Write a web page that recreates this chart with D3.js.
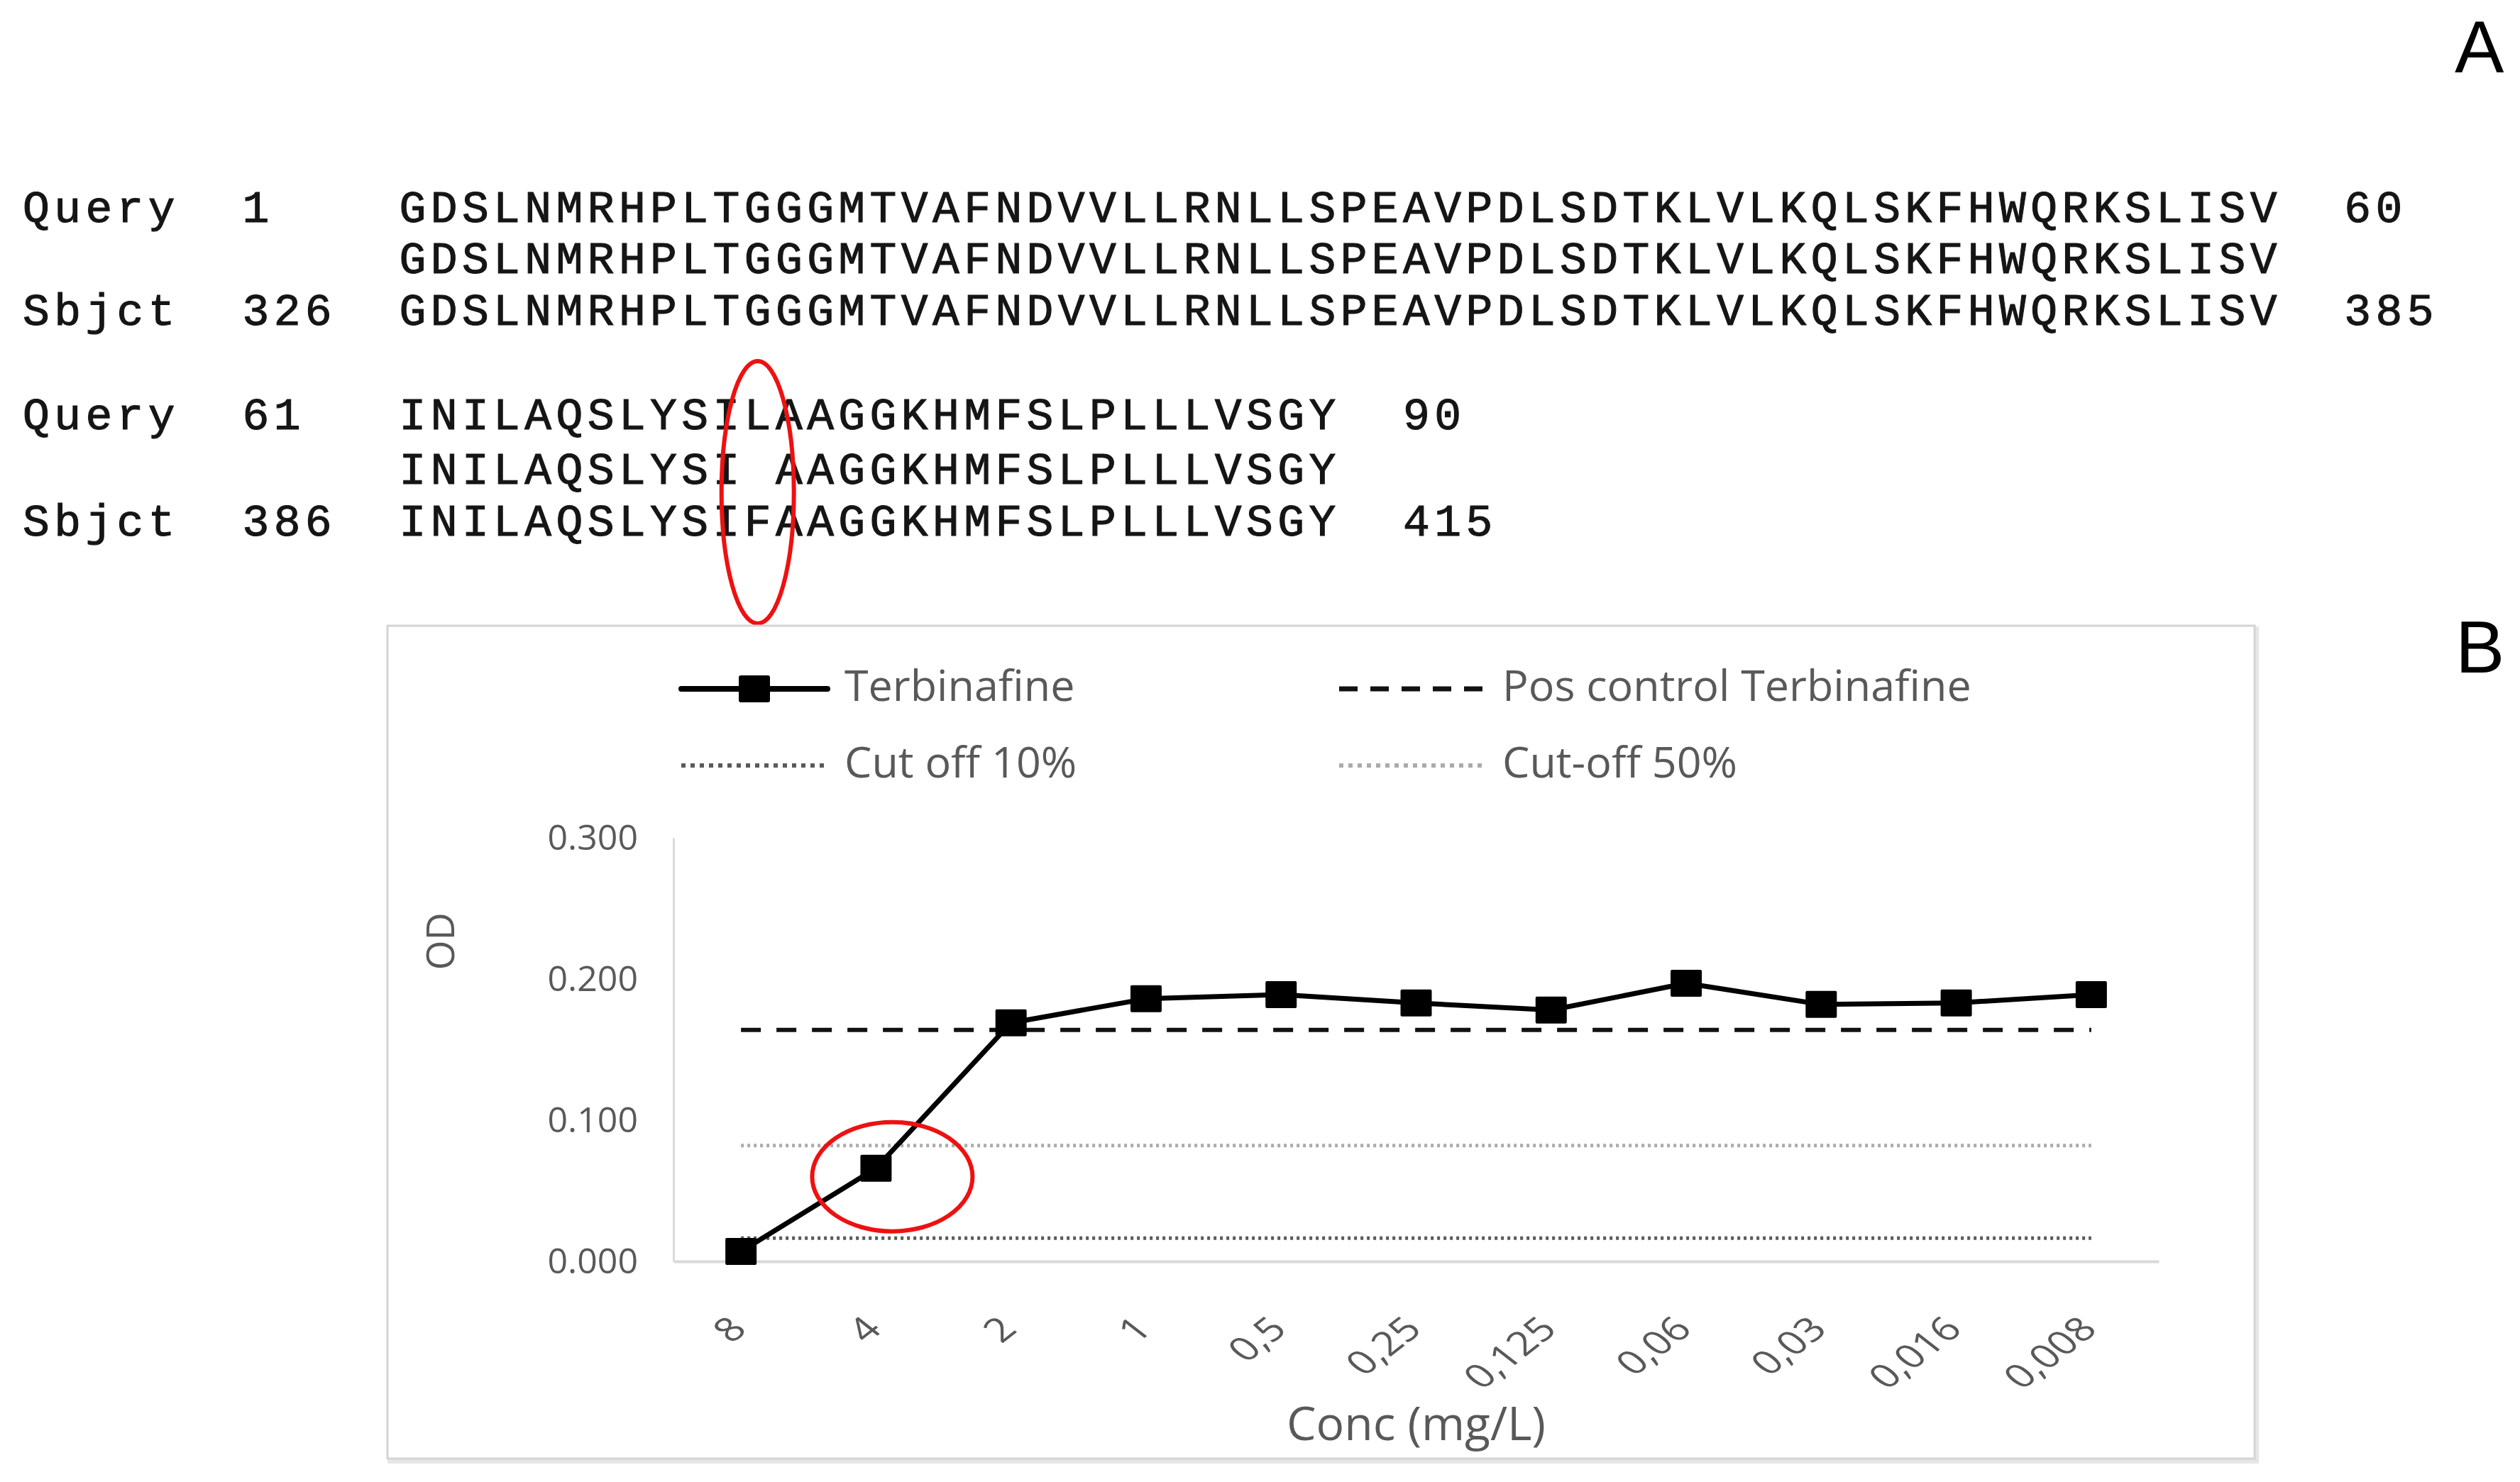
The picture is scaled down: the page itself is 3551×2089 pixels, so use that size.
<!DOCTYPE html>
<html>
<head>
<meta charset="utf-8">
<script src="https://cdn.jsdelivr.net/npm/d3@7"></script>
<style>
  html, body { margin: 0; padding: 0; background: #ffffff; }
  svg { display: block; }
</style>
</head>
<body>
<div id="chart"></div>
<script>
// ---------- DATA ----------
const alignmentBlock1 = [
  "Query  1    GDSLNMRHPLTGGGMTVAFNDVVLLRNLLSPEAVPDLSDTKLVLKQLSKFHWQRKSLISV  60",
  "            GDSLNMRHPLTGGGMTVAFNDVVLLRNLLSPEAVPDLSDTKLVLKQLSKFHWQRKSLISV",
  "Sbjct  326  GDSLNMRHPLTGGGMTVAFNDVVLLRNLLSPEAVPDLSDTKLVLKQLSKFHWQRKSLISV  385"
];
const alignmentBlock2 = [
  "Query  61   INILAQSLYSILAAGGKHMFSLPLLLVSGY  90",
  "            INILAQSLYSI AAGGKHMFSLPLLLVSGY",
  "Sbjct  386  INILAQSLYSIFAAGGKHMFSLPLLLVSGY  415"
];
const mutationColumn = 11; // 0-based residue column of the L/F mismatch

const categories = ["8", "4", "2", "1", "0,5", "0,25", "0,125", "0,06", "0,03", "0,016", "0,008"];
const terbinafineOD = [0.007, 0.066, 0.169, 0.186, 0.189, 0.183, 0.178, 0.197, 0.182, 0.183, 0.189];
const posControlOD = 0.164;
const cutoff50OD = 0.082;
const cutoff10OD = 0.0164;
const yTicks = [0, 0.1, 0.2, 0.3];
const legendLabels = ["Terbinafine", "Pos control Terbinafine", "Cut off 10%", "Cut-off 50%"];
const highlightedCategory = "4";

// ---------- SETUP ----------
const W = 3551, H = 2089;
const svg = d3.select("#chart").append("svg")
  .attr("width", W).attr("height", H)
  .attr("viewBox", `0 0 ${W} ${H}`);
svg.append("rect").attr("width", W).attr("height", H).attr("fill", "#ffffff");

const textGray = "#595959";
const sansFont = "'Open Sans', 'Noto Sans', sans-serif";

// ---------- PANEL A : alignment ----------
const charW = 44.2;              // monospace column pitch
const monoSize = 63;
const seqX0 = 32;
const gA = svg.append("g");
const rowsA = [
  { t: alignmentBlock1[0], y: 313 }, { t: alignmentBlock1[1], y: 385 }, { t: alignmentBlock1[2], y: 458 },
  { t: alignmentBlock2[0], y: 605 }, { t: alignmentBlock2[1], y: 682 }, { t: alignmentBlock2[2], y: 755 }
];
gA.selectAll("text.seq").data(rowsA).join("text")
  .attr("class", "seq")
  .attr("x", seqX0).attr("y", d => d.y)
  .attr("xml:space", "preserve")
  .style("white-space", "pre")
  .attr("font-family", "'Liberation Mono', 'DejaVu Sans Mono', monospace")
  .attr("font-size", monoSize)
  .attr("letter-spacing", charW - 0.6 * monoSize)
  .attr("fill", "#151515")
  .attr("stroke", "#151515").attr("stroke-width", 1.1)
  .text(d => d.t);

// red ellipse around mismatch column
const mutX = seqX0 + (12 + mutationColumn + 0.5) * charW;
gA.append("ellipse")
  .attr("cx", mutX - 3).attr("cy", 694)
  .attr("rx", 51).attr("ry", 185)
  .attr("fill", "none").attr("stroke", "#ee1111").attr("stroke-width", 6);

// Panel letters
svg.append("text").attr("x", 3459).attr("y", 102)
  .attr("font-family", "'Liberation Sans', Arial, sans-serif").attr("font-size", 104)
  .attr("fill", "#000").text("A");
svg.append("text").attr("x", 3460).attr("y", 948)
  .attr("font-family", "'Liberation Sans', Arial, sans-serif").attr("font-size", 104)
  .attr("fill", "#000").text("B");

// ---------- PANEL B : chart frame ----------
const frame = { x: 546, y: 882, w: 2631, h: 1174 };
svg.append("rect")
  .attr("x", frame.x + 3).attr("y", frame.y + 4).attr("width", frame.w).attr("height", frame.h)
  .attr("fill", "none").attr("stroke", "#e6e6e6").attr("stroke-width", 6);
svg.append("rect")
  .attr("x", frame.x).attr("y", frame.y).attr("width", frame.w).attr("height", frame.h)
  .attr("fill", "#ffffff").attr("stroke", "#d4d4d4").attr("stroke-width", 3);

// ---------- scales ----------
const plot = { left: 949, right: 3042, top: 1181, bottom: 1778 };
const x = d3.scaleBand().domain(categories).range([plot.left, plot.right]).padding(0);
const cx = c => x(c) + x.bandwidth() / 2;
const y = d3.scaleLinear().domain([0, 0.3]).range([plot.bottom, plot.top]);

// y axis
const yAxis = svg.append("g").attr("transform", `translate(${plot.left},0)`)
  .call(d3.axisLeft(y).tickValues(yTicks).tickFormat(d3.format(".3f")).tickSize(0).tickPadding(50));
yAxis.select(".domain").attr("stroke", "#d9d9d9").attr("stroke-width", 3);
yAxis.selectAll("text")
  .attr("font-family", sansFont).attr("font-size", 50).attr("fill", textGray);

// x axis
const xAxis = svg.append("g").attr("transform", `translate(0,${plot.bottom})`)
  .call(d3.axisBottom(x).tickSize(0).tickSizeOuter(0));
xAxis.select(".domain").attr("stroke", "#d9d9d9").attr("stroke-width", 4);
xAxis.selectAll(".tick text")
  .attr("font-family", sansFont).attr("font-size", 47).attr("fill", textGray)
  .attr("text-anchor", "end")
  .attr("x", 0).attr("y", 0).attr("dy", "0.72em")
  .attr("transform", "translate(-20,74) scale(1.28,1) rotate(-45)");

// axis titles
svg.append("text")
  .attr("transform", "translate(640,1327) rotate(-90)")
  .attr("text-anchor", "middle")
  .attr("font-family", sansFont).attr("font-size", 54).attr("fill", textGray)
  .text("OD");
svg.append("text")
  .attr("x", (plot.left + plot.right) / 2).attr("y", 2030)
  .attr("text-anchor", "middle")
  .attr("font-family", sansFont).attr("font-size", 66).attr("fill", textGray)
  .text("Conc (mg/L)");

// ---------- reference lines ----------
const x0 = cx(categories[0]), x1 = cx(categories[categories.length - 1]);
const refLines = [
  { v: cutoff10OD, color: "#5a5a5a", dash: "4,5", w: 5 },
  { v: cutoff50OD, color: "#ababab", dash: "4,5", w: 5 },
  { v: posControlOD, color: "#111111", dash: "28,22", w: 6 }
];
svg.append("g").selectAll("line").data(refLines).join("line")
  .attr("x1", x0).attr("x2", x1)
  .attr("y1", d => y(d.v)).attr("y2", d => y(d.v))
  .attr("stroke", d => d.color).attr("stroke-width", d => d.w)
  .attr("stroke-dasharray", d => d.dash);

// ---------- data line ----------
const pts = categories.map((c, i) => ({ c, v: terbinafineOD[i] }));
svg.append("path").datum(pts)
  .attr("fill", "none").attr("stroke", "#000").attr("stroke-width", 7)
  .attr("stroke-linejoin", "round")
  .attr("d", d3.line().x(d => cx(d.c)).y(d => y(d.v)));
const mW = 44, mH = 38;
svg.append("g").selectAll("rect").data(pts).join("rect")
  .attr("x", d => cx(d.c) - mW / 2).attr("y", d => y(d.v) - mH / 2)
  .attr("width", mW).attr("height", mH).attr("rx", 2)
  .attr("fill", "#000");

// highlight ellipse
const hp = pts.find(p => p.c === highlightedCategory);
svg.append("ellipse")
  .attr("cx", cx(hp.c) + 23).attr("cy", y(hp.v) + 12)
  .attr("rx", 113).attr("ry", 77)
  .attr("fill", "none").attr("stroke", "#ee1111").attr("stroke-width", 6);

// ---------- legend ----------
const legendItems = [
  { label: legendLabels[0], col: 0, row: 0, type: "marker" },
  { label: legendLabels[1], col: 1, row: 0, type: "dash" },
  { label: legendLabels[2], col: 0, row: 1, type: "dot10" },
  { label: legendLabels[3], col: 1, row: 1, type: "dot50" }
];
const colX = [960, 1887], rowY = [971, 1079], sampleLen = 206;
const lg = svg.append("g").selectAll("g").data(legendItems).join("g")
  .attr("transform", d => `translate(${colX[d.col]},${rowY[d.row]})`);
lg.each(function (d) {
  const g = d3.select(this);
  if (d.type === "marker") {
    g.append("line").attr("x1", 0).attr("x2", sampleLen).attr("y1", 0).attr("y2", 0)
      .attr("stroke", "#000").attr("stroke-width", 8).attr("stroke-linecap", "round");
    g.append("rect").attr("x", sampleLen / 2 - mW / 2).attr("y", -mH / 2)
      .attr("width", mW).attr("height", mH).attr("rx", 3).attr("fill", "#000");
  } else if (d.type === "dash") {
    g.append("line").attr("x1", 0).attr("x2", sampleLen).attr("y1", 0).attr("y2", 0)
      .attr("stroke", "#111").attr("stroke-width", 7).attr("stroke-dasharray", "26,18");
  } else {
    g.append("line").attr("x1", 0).attr("x2", sampleLen).attr("y1", 0).attr("y2", 0)
      .attr("stroke", d.type === "dot10" ? "#5a5a5a" : "#ababab")
      .attr("stroke-width", 6).attr("stroke-dasharray", "6,7");
  }
  g.append("text").attr("x", sampleLen + 24).attr("y", 17)
    .attr("font-family", sansFont).attr("font-size", 61).attr("fill", textGray)
    .text(d.label);
});
</script>
</body>
</html>
